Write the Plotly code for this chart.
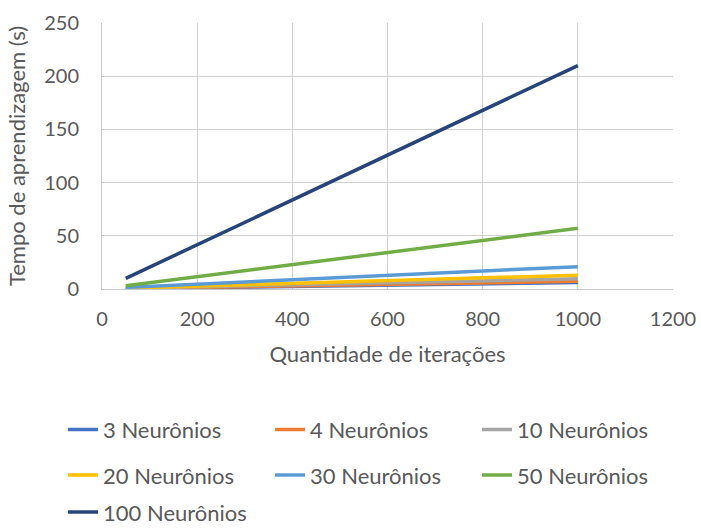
import plotly.graph_objects as go

iteracoes = [50, 1000]
series_names = ["3 Neurônios", "4 Neurônios", "10 Neurônios", "20 Neurônios",
                "30 Neurônios", "50 Neurônios", "100 Neurônios"]
tempo_3 = [0.3, 6.0]
tempo_4 = [0.4, 7.2]
tempo_10 = [0.6, 9.7]
tempo_20 = [0.8, 13.0]
tempo_30 = [1.5, 21.0]
tempo_50 = [3.0, 57.0]
tempo_100 = [10.0, 210.0]
series_values = [tempo_3, tempo_4, tempo_10, tempo_20, tempo_30, tempo_50, tempo_100]
colors = ["#4472C4", "#ED7D31", "#A5A5A5", "#FFC000", "#5B9BD5", "#70AD47", "#264478"]

FONT = "Lato"
TXT = "#595959"

# legend grid: three columns, three rows (one legend box per entry)
col_x = [0.0899, 0.3852, 0.6805]
row_y = [0.186, 0.100, 0.030]

fig = go.Figure()
legend_layout = {}
for i, (name, vals, col) in enumerate(zip(series_names, series_values, colors)):
    key = "legend" if i == 0 else f"legend{i + 1}"
    fig.add_trace(go.Scatter(
        x=iteracoes, y=vals, name=name, mode="lines",
        line=dict(color=col, width=3.5), legend=key, showlegend=True,
    ))
    legend_layout[key] = dict(
        x=col_x[i % 3], y=row_y[i // 3],
        orientation="h", xref="container", yref="container",
        xanchor="left", yanchor="middle",
        font=dict(family=FONT, size=22, color=TXT), bgcolor="rgba(0,0,0,0)",
    )

fig.update_layout(
    width=701, height=528,
    showlegend=True,
    margin=dict(l=102, r=28, t=23, b=239, autoexpand=False),
    paper_bgcolor="white", plot_bgcolor="white",
    font=dict(family=FONT, color=TXT),
    xaxis=dict(
        range=[0, 1200], dtick=200, showgrid=True, gridcolor="#D0D0D0", gridwidth=1,
        showline=True, linecolor="#C8C8C8", linewidth=1, zeroline=False,
        ticks="", tickfont=dict(family=FONT, size=20, color=TXT), ticklabelstandoff=12,
        title=dict(text="Quantidade de iterações", font=dict(family=FONT, size=22, color=TXT),
                   standoff=17),
        automargin=False,
    ),
    yaxis=dict(
        range=[0, 250], dtick=50, showgrid=True, gridcolor="#D0D0D0", gridwidth=1,
        showline=True, linecolor="#C8C8C8", linewidth=1, zeroline=False,
        ticks="", tickfont=dict(family=FONT, size=20, color=TXT), ticklabelstandoff=18,
        title=dict(text="Tempo de aprendizagem (s)", font=dict(family=FONT, size=22, color=TXT),
                   standoff=12),
        automargin=False,
    ),
    **legend_layout,
)

fig.write_html("out.html")
